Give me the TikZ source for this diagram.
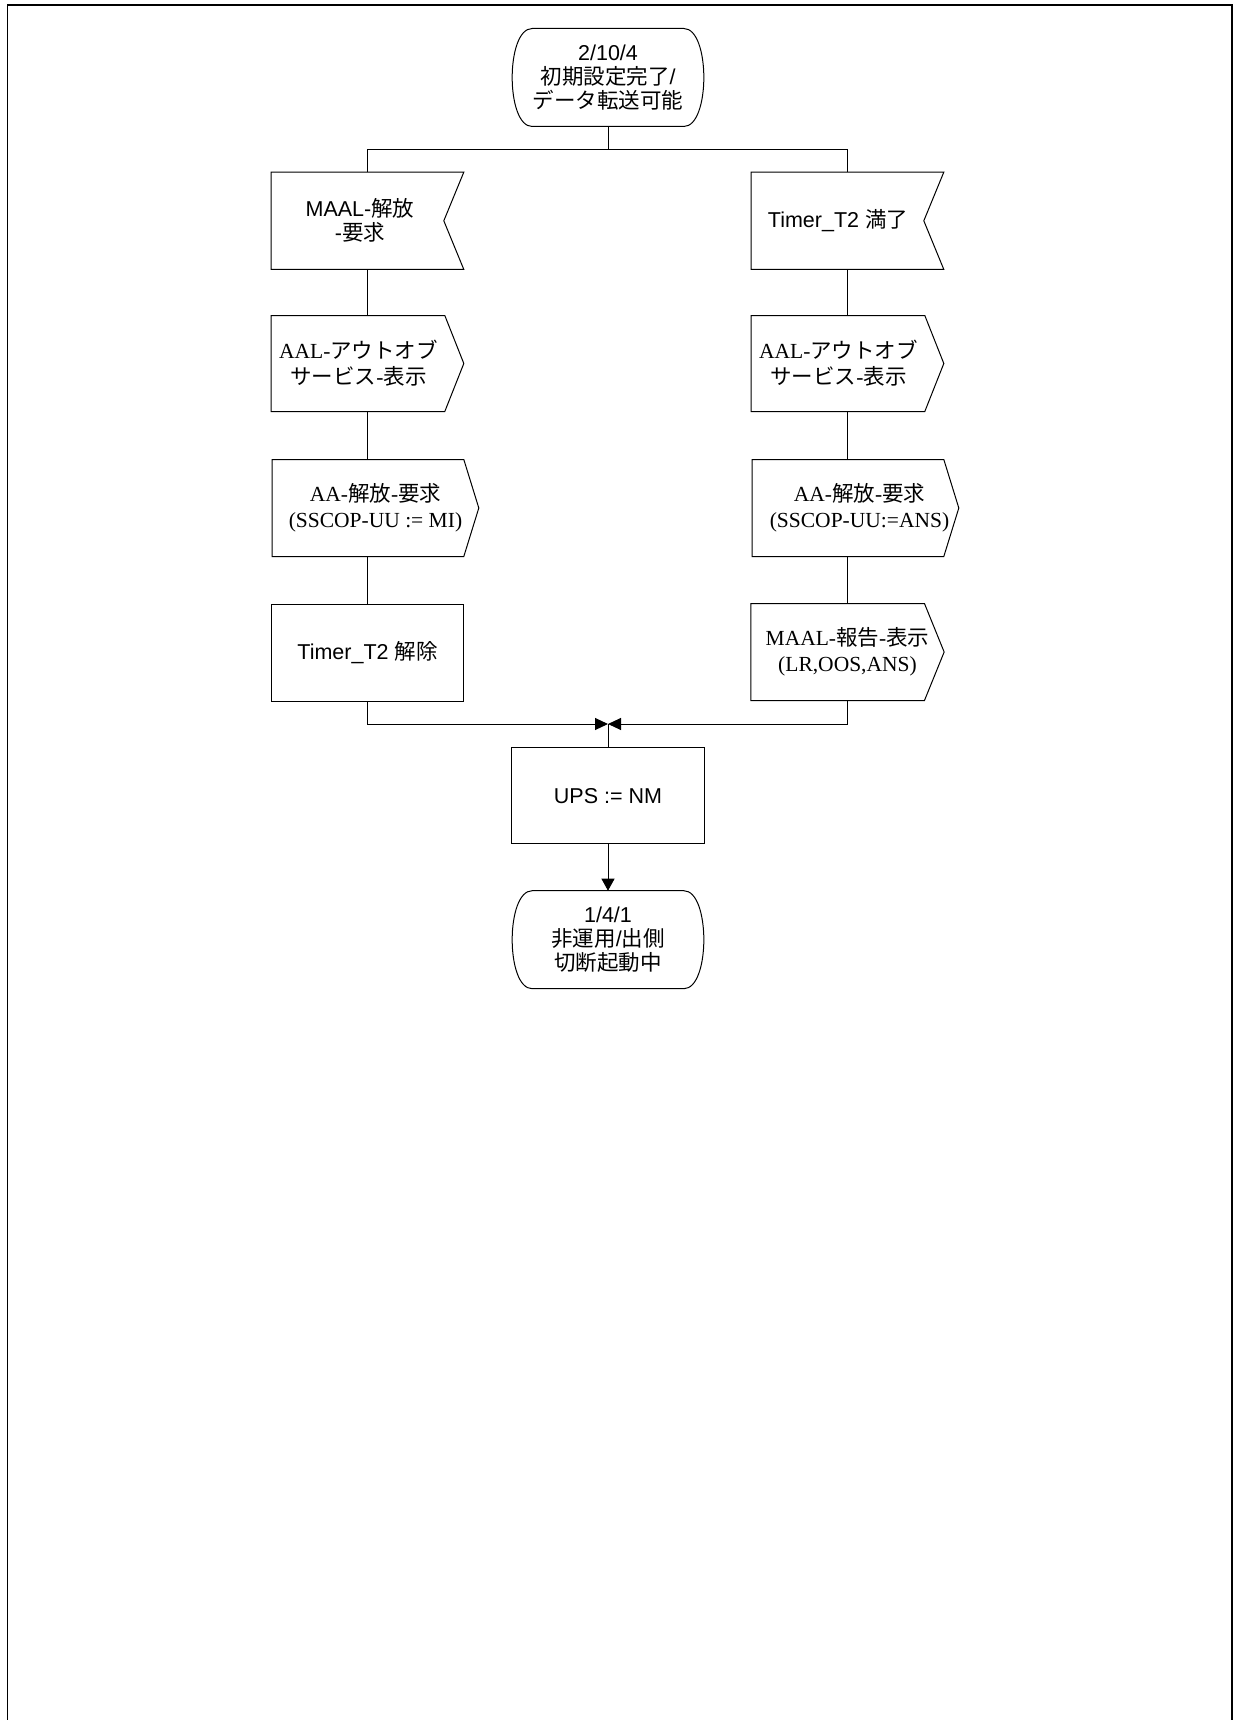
\documentclass[tikz,border=0pt]{standalone}
\usepackage{fontspec}
\setmainfont{Liberation Sans}
\newfontfamily\tms{Liberation Serif}
\newfontfamily\jp{Noto Sans CJK JP}
\usetikzlibrary{arrows.meta}
\newcommand\ml[1]{\vbox{\lineskiplimit=-100pt\lineskip=0pt\halign{\hfil##\hfil\cr#1\crcr}}}
\newcommand\J[1]{{\jp #1}}
\newcommand\insig[2]{\draw (#1.north west) -- (#1.north east) -- ([xshift=-#2pt]#1.east) -- (#1.south east) -- (#1.south west) -- cycle;}
\newcommand\outsig[2]{\draw (#1.north west) -- ([xshift=-#2pt]#1.north east) -- (#1.east) -- ([xshift=-#2pt]#1.south east) -- (#1.south west) -- cycle;}
\newcommand\termshape[1]{\draw ([xshift=20pt]#1.north west) -- ([xshift=-20pt]#1.north east)
  .. controls ([xshift=6.7pt]#1.north east) and ([xshift=6.7pt]#1.south east) .. ([xshift=-20pt]#1.south east)
  -- ([xshift=20pt]#1.south west)
  .. controls ([xshift=-6.7pt]#1.south west) and ([xshift=-6.7pt]#1.north west) .. cycle;}
\begin{document}
\begin{tikzpicture}[x=1pt,y=-1pt,line width=1pt,
  box/.style={rectangle, draw=none, inner sep=0pt},
  proc/.style={rectangle, draw, inner sep=0pt, minimum width=192.3pt, minimum height=97pt},
  term/.style={rectangle, draw=none, inner sep=0pt, minimum width=190.6pt, minimum height=97pt},
  sans/.style={font=\fontsize{21.5}{24}\selectfont},
  serif/.style={font=\fontsize{21.5}{26}\selectfont\tms},
  tip/.style={-{Triangle[length=13pt,width=12pt]}},
  tipd/.style={-{Triangle[length=12pt,width=13pt]}}]
\useasboundingbox (0,0) rectangle (1235,1720);
\draw[line width=1.5pt] (7.5,1720) -- (7.5,5) -- (1232,5) -- (1232,1720);

\node[term, sans] (start) at (608,77.5) {\ml{2/10/4\cr\J{初期設定完了}/\cr\J{データ転送可能}}};
\termshape{start}

\node[box, sans, minimum width=191.6pt, minimum height=96.3pt] (L1) at (367.5,220.8) {\ml{MAAL-\J{解放}\cr -\J{要求}}\hspace*{15pt}};
\node[box, sans, minimum width=191.6pt, minimum height=96.3pt] (R1) at (847.5,220.8) {Timer\_T2 \J{満了}\hspace*{19pt}};
\insig{L1}{20}
\insig{R1}{20}

\node[box, serif, minimum width=191.6pt, minimum height=95pt] (L2) at (367.5,363.5) {\ml{AAL-\J{アウトオブ}\cr\J{サービス}-\J{表示}}\hspace*{18pt}};
\node[box, serif, minimum width=191.6pt, minimum height=95pt] (R2) at (847.5,363.5) {\ml{AAL-\J{アウトオブ}\cr\J{サービス}-\J{表示}}\hspace*{18pt}};
\outsig{L2}{19}
\outsig{R2}{19}

\node[box, serif, minimum width=205.6pt, minimum height=96pt] (L3) at (375.5,508) {\ml{AA-\J{解放}-\J{要求}\cr (SSCOP-UU := MI)}};
\node[box, serif, minimum width=205.6pt, minimum height=96pt] (R3) at (855.5,508) {\ml{AA-\J{解放}-\J{要求}\cr (SSCOP-UU:=ANS)}\hspace*{-8pt}};
\outsig{L3}{15}
\outsig{R3}{15}

\node[proc, sans] (L4) at (367.5,652.5) {Timer\_T2 \J{解除}};
\node[box, serif, minimum width=192.3pt, minimum height=96pt] (R4) at (847.5,652) {\ml{MAAL-\J{報告}-\J{表示}\cr (LR,OOS,ANS)}};
\outsig{R4}{19.7}

\node[proc, sans, minimum height=96.3pt] (ups) at (608,795.8) {UPS := NM};
\node[term, sans] (end) at (608,939.7) {\ml{1/4/1\cr\J{非運用}/\J{出側}\cr\J{切断起動中}}};
\termshape{end}

\coordinate (t) at (608,149.3);
\coordinate (m) at (608,724);
\draw (start.south) -- (t);
\draw (L1.north) |- (t) -| (R1.north);
\draw (L1.south) -- (L2.north);
\draw (R1.south) -- (R2.north);
\draw (L2.south) -- (L2.south |- L3.north);
\draw (R2.south) -- (R2.south |- R3.north);
\draw (L4.north |- L3.south) -- (L4.north);
\draw (R4.north |- R3.south) -- (R4.north);
\draw[tip] (L4.south) |- (m);
\draw[tip] (R4.south) |- (m);
\draw (m) -- (ups.north);
\draw[tipd] (ups.south) -- (end.north);
\end{tikzpicture}
\end{document}
